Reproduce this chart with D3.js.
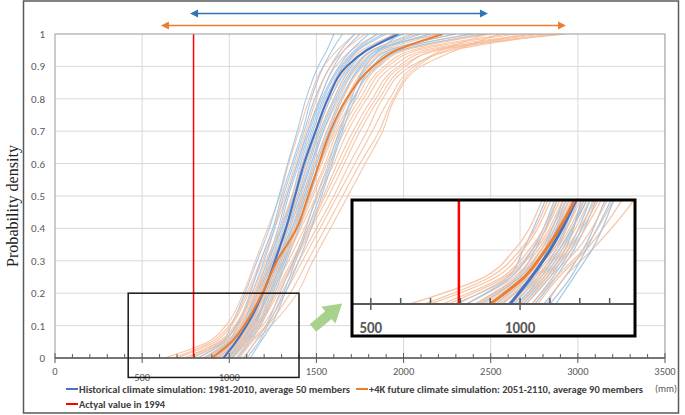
<!DOCTYPE html>
<html>
<head>
<meta charset="utf-8">
<script src="https://cdn.jsdelivr.net/npm/d3@7"></script>
<style>
    body { margin: 0; background: white; }
    svg { display: block; }
</style>
</head>
<body>
<script>
// probability levels at which every curve is read (mm values below)
var probLevels = [0, 0.05, 0.1, 0.2, 0.3, 0.4, 0.5, 0.6, 0.7, 0.8, 0.9, 0.95, 1];

var histMean = [966, 1038, 1100, 1193, 1262, 1325, 1377, 1429, 1495, 1566, 1673, 1790, 1970];
var futureMean = [899, 1014, 1085, 1190, 1274, 1387, 1452, 1515, 1580, 1673, 1825, 1960, 2227];

var histMembers = [
    [780, 960, 1010, 1090, 1160, 1230, 1285, 1335, 1390, 1440, 1510, 1560, 1600],
    [850, 990, 1050, 1130, 1200, 1260, 1310, 1370, 1430, 1490, 1580, 1640, 1720],
    [900, 1020, 1080, 1160, 1230, 1290, 1340, 1400, 1460, 1530, 1630, 1700, 1800],
    [940, 1040, 1100, 1180, 1250, 1310, 1370, 1420, 1480, 1550, 1660, 1740, 1900],
    [980, 1060, 1120, 1200, 1270, 1330, 1390, 1450, 1510, 1580, 1690, 1780, 1950],
    [1000, 1080, 1140, 1220, 1290, 1350, 1410, 1470, 1530, 1610, 1720, 1820, 2050],
    [1020, 1100, 1160, 1240, 1310, 1370, 1430, 1490, 1560, 1640, 1760, 1870, 2150],
    [1050, 1120, 1180, 1260, 1330, 1400, 1460, 1520, 1590, 1680, 1800, 1920, 2300],
    [1080, 1150, 1210, 1290, 1370, 1440, 1500, 1570, 1630, 1710, 1850, 1990, 2480],
    [870, 1000, 1070, 1150, 1220, 1280, 1330, 1390, 1450, 1520, 1600, 1660, 1750],
    [960, 1050, 1090, 1170, 1240, 1300, 1360, 1410, 1470, 1540, 1640, 1720, 1850],
    [1010, 1090, 1150, 1210, 1280, 1340, 1400, 1460, 1520, 1600, 1700, 1790, 2000],
    [1100, 1170, 1220, 1310, 1380, 1450, 1520, 1580, 1640, 1700, 1780, 1860, 1980],
    [920, 1030, 1110, 1190, 1260, 1320, 1380, 1440, 1500, 1560, 1650, 1730, 1880],
    [820, 970, 1040, 1120, 1180, 1250, 1300, 1360, 1420, 1470, 1540, 1590, 1650],
    [1040, 1110, 1170, 1250, 1320, 1380, 1440, 1500, 1570, 1650, 1750, 1850, 2100],
    [990, 1070, 1130, 1230, 1300, 1360, 1420, 1480, 1540, 1620, 1730, 1830, 2200],
    [1120, 1180, 1240, 1320, 1400, 1470, 1530, 1590, 1650, 1720, 1820, 1940, 2400]
];

var futureMembers = [
    [630, 880, 980, 1080, 1150, 1220, 1290, 1340, 1400, 1460, 1540, 1620, 1720],
    [700, 920, 1010, 1110, 1190, 1260, 1330, 1390, 1450, 1520, 1610, 1700, 1850],
    [760, 950, 1040, 1140, 1220, 1300, 1370, 1430, 1500, 1580, 1680, 1780, 2000],
    [820, 980, 1060, 1160, 1250, 1330, 1400, 1470, 1540, 1630, 1740, 1850, 2150],
    [860, 1000, 1080, 1180, 1270, 1360, 1430, 1500, 1580, 1670, 1790, 1910, 2300],
    [900, 1020, 1100, 1200, 1290, 1380, 1460, 1530, 1610, 1710, 1840, 1980, 2450],
    [930, 1040, 1120, 1220, 1310, 1400, 1480, 1560, 1640, 1750, 1890, 2050, 2600],
    [960, 1060, 1140, 1240, 1340, 1430, 1510, 1600, 1680, 1790, 1940, 2120, 2750],
    [990, 1080, 1160, 1270, 1370, 1460, 1550, 1640, 1730, 1840, 1990, 2200, 2930],
    [1020, 1100, 1190, 1300, 1400, 1500, 1600, 1690, 1790, 1880, 2040, 2280, 2850],
    [1060, 1130, 1220, 1350, 1450, 1550, 1650, 1750, 1860, 1940, 2080, 2250, 2700],
    [1090, 1150, 1240, 1390, 1480, 1580, 1680, 1780, 1880, 1950, 2100, 2300, 2550],
    [680, 900, 1000, 1100, 1180, 1250, 1320, 1380, 1440, 1500, 1580, 1660, 1780],
    [790, 960, 1050, 1150, 1240, 1320, 1390, 1450, 1520, 1600, 1710, 1820, 2080],
    [880, 1010, 1090, 1190, 1280, 1370, 1440, 1520, 1600, 1690, 1820, 1950, 2380],
    [940, 1050, 1130, 1230, 1320, 1410, 1500, 1580, 1660, 1770, 1910, 2080, 2650],
    [1000, 1090, 1170, 1280, 1380, 1470, 1570, 1660, 1750, 1860, 2010, 2180, 2800],
    [1040, 1120, 1210, 1320, 1420, 1520, 1620, 1720, 1820, 1920, 2060, 2220, 2480],
    [850, 990, 1070, 1170, 1260, 1340, 1420, 1490, 1560, 1650, 1770, 1890, 2200],
    [910, 1030, 1110, 1210, 1300, 1390, 1470, 1550, 1620, 1730, 1860, 2010, 2500],
    [970, 1070, 1150, 1260, 1360, 1450, 1540, 1620, 1710, 1820, 1970, 2150, 2900],
    [740, 940, 1030, 1130, 1210, 1290, 1360, 1420, 1490, 1560, 1660, 1760, 1950]
];

var actualValue = 795;
var histRange = [775, 2484];
var futureRange = [608, 2932];
var zoomRangeX = [420, 1400];
var zoomRangeY = [-0.06, 0.2];
var insetDomainX = [437, 1385];
var insetDomainY = [-0.0594, 0.193];

var xTicks = [0, 500, 1000, 1500, 2000, 2500, 3000, 3500];
var yTicks = [0, 0.1, 0.2, 0.3, 0.4, 0.5, 0.6, 0.7, 0.8, 0.9, 1];
var legendLabels = [
    'Historical climate simulation: 1981-2010, average 50 members',
    '+4K future climate simulation: 2051-2110, average 90 members',
    'Actyal value in 1994'
];

var colors = {
    hist: '#4472c4', histLight: '#9dc3e6',
    future: '#ed7d31', futureLight: '#f6bf9c',
    actual: '#ff0000', grid: '#d9d9d9', axis: '#595959'
};

var W = 685, H = 415;
var svg = d3.select('body').append('svg')
    .attr('width', W)
    .attr('height', H)
    .style('font-family', 'Carlito, "Liberation Sans Narrow", "Liberation Sans", Arial, sans-serif');

var x = d3.scaleLinear().domain([0, 3500]).range([55, 665]);
var y = d3.scaleLinear().domain([0, 1]).range([358, 34]);

// outer frame
svg.append('rect')
    .attr('x', 23.5)
    .attr('y', 1)
    .attr('width', 655)
    .attr('height', 412)
    .style('fill', 'white')
    .style('stroke', '#595959')
    .style('stroke-width', 1.5);

function curveLine(xs, ys) {
    return d3.line()
        .x(function(d) { return xs(d); })
        .y(function(d, i) { return ys(probLevels[i]); })
        .curve(d3.curveMonotoneY);
}

// draws gridlines, member curves, means and red line into a group
function drawPanel(g, xs, ys, gridX, gridY, wThin, wMean, wRed) {
    g.selectAll('.gx').data(gridX).enter().append('line')
        .attr('x1', function(d) { return xs(d); })
        .attr('x2', function(d) { return xs(d); })
        .attr('y1', ys.range()[0])
        .attr('y2', ys.range()[1])
        .style('stroke', colors.grid)
        .style('stroke-width', 1);
    g.selectAll('.gy').data(gridY).enter().append('line')
        .attr('x1', xs.range()[0])
        .attr('x2', xs.range()[1])
        .attr('y1', function(d) { return ys(d); })
        .attr('y2', function(d) { return ys(d); })
        .style('stroke', colors.grid)
        .style('stroke-width', 1);

    var line = curveLine(xs, ys);
    var n = Math.max(histMembers.length, futureMembers.length);
    for (var i = 0; i < n; i++) {
        if (futureMembers[i]) {
            g.append('path').attr('d', line(futureMembers[i]))
                .style('fill', 'none').style('stroke', colors.futureLight)
                .style('stroke-width', wThin).style('opacity', 0.9);
        }
        if (histMembers[i]) {
            g.append('path').attr('d', line(histMembers[i]))
                .style('fill', 'none').style('stroke', colors.histLight)
                .style('stroke-width', wThin).style('opacity', 0.9);
        }
    }
    g.append('path').attr('d', line(histMean))
        .style('fill', 'none').style('stroke', colors.hist).style('stroke-width', wMean);
    g.append('path').attr('d', line(futureMean))
        .style('fill', 'none').style('stroke', colors.future).style('stroke-width', wMean);

    g.append('line')
        .attr('x1', xs(actualValue))
        .attr('x2', xs(actualValue))
        .attr('y1', ys(0))
        .attr('y2', ys(1))
        .style('stroke', colors.actual)
        .style('stroke-width', wRed);
}

function drawTicks(g, xs, y0, major, minor, majorLen, minorLen, w) {
    g.selectAll('.mn').data(minor).enter().append('line')
        .attr('x1', function(d) { return xs(d); })
        .attr('x2', function(d) { return xs(d); })
        .attr('y1', y0 - minorLen)
        .attr('y2', y0)
        .style('stroke', colors.axis).style('stroke-width', w);
    g.selectAll('.mj').data(major).enter().append('line')
        .attr('x1', function(d) { return xs(d); })
        .attr('x2', function(d) { return xs(d); })
        .attr('y1', y0 - majorLen)
        .attr('y2', y0 + majorLen)
        .style('stroke', colors.axis).style('stroke-width', w);
    g.append('line')
        .attr('x1', xs.range()[0])
        .attr('x2', xs.range()[1])
        .attr('y1', y0)
        .attr('y2', y0)
        .style('stroke', colors.axis).style('stroke-width', w + 0.5);
}

// ---- main plot ----
var defs = svg.append('defs');
defs.append('clipPath').attr('id', 'clipMain').append('rect')
    .attr('x', x(0)).attr('y', y(1))
    .attr('width', x(3500) - x(0)).attr('height', y(0) - y(1));

var main = svg.append('g').attr('clip-path', 'url(#clipMain)');
drawPanel(main, x, y, xTicks.slice(1), yTicks.slice(1, -1), 1.1, 2, 1.5);

// plot border
svg.append('rect')
    .attr('x', x(0)).attr('y', y(1))
    .attr('width', x(3500) - x(0)).attr('height', y(0) - y(1))
    .style('fill', 'none').style('stroke', '#9a9a9a').style('stroke-width', 1);

var minorMain = d3.range(0, 3501, 100).filter(function(d) { return d % 500 !== 0; });
drawTicks(svg.append('g'), x, y(0), xTicks, minorMain, 5, 4, 1);

// y tick labels
svg.selectAll('.ylab').data(yTicks).enter().append('text')
    .attr('x', 45)
    .attr('y', function(d) { return y(d) + 4; })
    .attr('text-anchor', 'end')
    .text(function(d) { return d; })
    .style('font-size', '11px')
    .style('fill', colors.axis);

// x tick labels (the ones under the zoom box sit a bit lower)
svg.selectAll('.xlab').data(xTicks).enter().append('text')
    .attr('x', function(d) { return x(d); })
    .attr('y', function(d) { return (d > zoomRangeX[0] && d < zoomRangeX[1]) ? 381 : 375; })
    .attr('text-anchor', 'middle')
    .text(function(d) { return d; })
    .style('font-size', '10.5px')
    .style('fill', colors.axis);

// zoom box on the main chart
svg.append('rect')
    .attr('x', x(zoomRangeX[0]))
    .attr('y', y(zoomRangeY[1]))
    .attr('width', x(zoomRangeX[1]) - x(zoomRangeX[0]))
    .attr('height', y(zoomRangeY[0]) - y(zoomRangeY[1]))
    .style('fill', 'none')
    .style('stroke', '#1a1a1a')
    .style('stroke-width', 1.5);

// y axis title
svg.append('text')
    .attr('transform', 'translate(18,206) rotate(-90)')
    .attr('text-anchor', 'middle')
    .attr('textLength', 122)
    .attr('lengthAdjust', 'spacingAndGlyphs')
    .text('Probability density')
    .style('font-family', '"Liberation Serif", "DejaVu Serif", serif')
    .style('font-size', '16px')
    .style('fill', '#222');

// range arrows at the top
function rangeArrow(range, yPos, color) {
    var x0 = x(range[0]), x1 = x(range[1]);
    svg.append('line')
        .attr('x1', x0 + 6).attr('x2', x1 - 6)
        .attr('y1', yPos).attr('y2', yPos)
        .style('stroke', color).style('stroke-width', 1.3);
    svg.append('path')
        .attr('d', 'M' + x0 + ',' + yPos + 'l8,-4l0,8z')
        .style('fill', color);
    svg.append('path')
        .attr('d', 'M' + x1 + ',' + yPos + 'l-8,-4l0,8z')
        .style('fill', color);
}
rangeArrow(histRange, 13.5, '#2e75b6');
rangeArrow(futureRange, 25.5, colors.future);

// ---- inset ----
var ix = d3.scaleLinear().domain(insetDomainX).range([352, 635]);
var iy = d3.scaleLinear().domain(insetDomainY).range([336, 200]);

svg.append('rect')
    .attr('x', ix.range()[0]).attr('y', iy.range()[1])
    .attr('width', ix.range()[1] - ix.range()[0])
    .attr('height', iy.range()[0] - iy.range()[1])
    .style('fill', 'white');

defs.append('clipPath').attr('id', 'clipInset').append('rect')
    .attr('x', ix.range()[0]).attr('y', iy.range()[1])
    .attr('width', ix.range()[1] - ix.range()[0])
    .attr('height', iy(0) - iy.range()[1]);

var iyPlot = d3.scaleLinear().domain([0, 1]).range([iy(0), iy(1)]);
var inset = svg.append('g').attr('clip-path', 'url(#clipInset)');
drawPanel(inset, ix, iyPlot, [500, 1000], [0.1], 1.3, 3, 2.5);

var minorInset = d3.range(500, 1400, 100).filter(function(d) { return d % 500 !== 0; });
drawTicks(svg.append('g'), ix, iy(0), [500, 1000], minorInset, 6, 6, 1.5);

svg.selectAll('.ilab').data([500, 1000]).enter().append('text')
    .attr('x', function(d) { return ix(d); })
    .attr('y', 333)
    .attr('text-anchor', 'middle')
    .text(function(d) { return d; })
    .style('font-size', '15px')
    .style('font-weight', 'bold')
    .style('fill', colors.axis);

svg.append('rect')
    .attr('x', ix.range()[0]).attr('y', iy.range()[1])
    .attr('width', ix.range()[1] - ix.range()[0])
    .attr('height', iy.range()[0] - iy.range()[1])
    .style('fill', 'none')
    .style('stroke', '#000')
    .style('stroke-width', 3);

// green arrow pointing at the inset
svg.append('path')
    .attr('transform', 'translate(313,328) rotate(-40)')
    .attr('d', 'M0,-5L20,-5L20,-11L38,0L20,11L20,5L0,5Z')
    .style('fill', '#a9d18e');

// ---- legend ----
var legendItems = [
    {x: 66, y: 389, w: 271, color: colors.hist},
    {x: 356, y: 389, w: 274, color: colors.future},
    {x: 66, y: 404, w: 86, color: colors.actual}
];
legendItems.forEach(function(d, i) {
    svg.append('line')
        .attr('x1', d.x).attr('x2', d.x + 12)
        .attr('y1', d.y).attr('y2', d.y)
        .style('stroke', d.color).style('stroke-width', 2);
    svg.append('text')
        .attr('x', d.x + 13)
        .attr('y', d.y + 3.5)
        .attr('textLength', d.w)
        .attr('lengthAdjust', 'spacingAndGlyphs')
        .text(legendLabels[i])
        .style('font-size', '10px')
        .style('font-weight', 'bold')
        .style('fill', '#404040');
});

svg.append('text')
    .attr('x', 666)
    .attr('y', 392)
    .attr('text-anchor', 'middle')
    .text('(mm)')
    .style('font-size', '10px')
    .style('fill', colors.axis);
</script>
</body>
</html>
